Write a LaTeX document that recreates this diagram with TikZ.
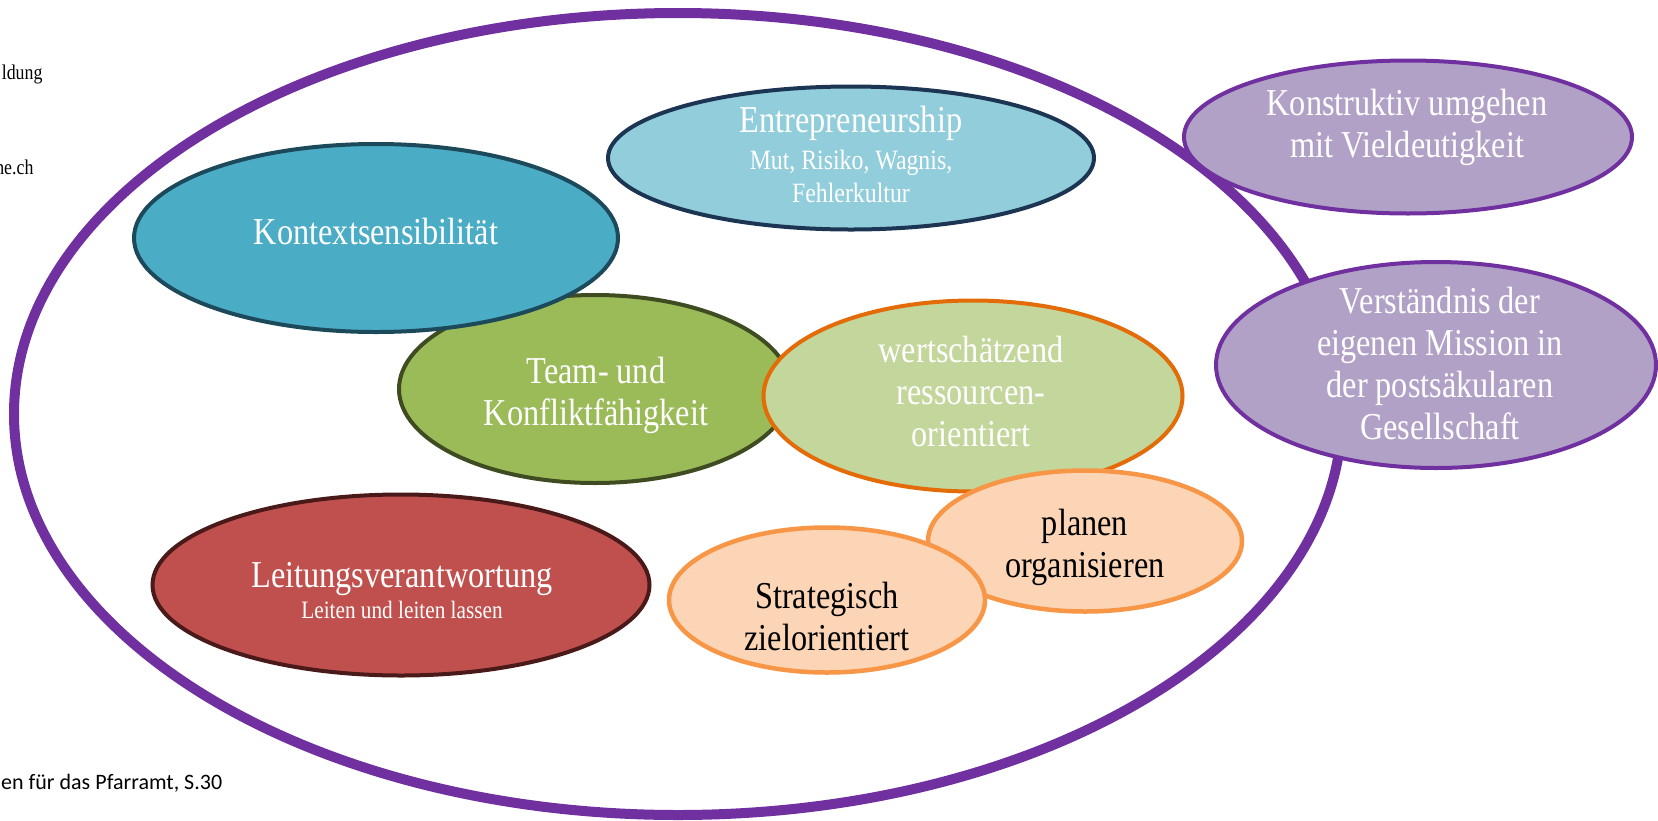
\documentclass[tikz,border=0pt]{standalone}
\usepackage{fontspec}
\newfontfamily\condfont{Liberation Serif}[FakeStretch=0.85]
\newfontfamily\notefont{Carlito}
\usetikzlibrary{shapes.geometric}
\definecolor{ringpurple}{HTML}{7030A0}
\definecolor{lilac}{HTML}{B2A1C7}
\definecolor{skyblue}{HTML}{92CDDC}
\definecolor{navyline}{HTML}{1C3553}
\definecolor{teal}{HTML}{4BACC6}
\definecolor{tealline}{HTML}{1D4A5B}
\definecolor{olive}{HTML}{9BBB59}
\definecolor{oliveline}{HTML}{3F4C21}
\definecolor{palegreen}{HTML}{C3D69B}
\definecolor{orangeline}{HTML}{E36C09}
\definecolor{peach}{HTML}{FBD5B5}
\definecolor{peachline}{HTML}{F79646}
\definecolor{brick}{HTML}{C0504D}
\definecolor{brickline}{HTML}{4A1A1A}
\tikzset{
  blob/.style={ellipse, draw, line width=4pt, inner sep=0pt},
  title/.style={font=\condfont\fontsize{38}{42}\selectfont, align=center, text=white},
  subtitle/.style={font=\condfont\fontsize{28}{33}\selectfont, align=center, text=white},
  smallsub/.style={font=\condfont\fontsize{25}{28}\selectfont, align=center, text=white},
  sidenote/.style={font=\condfont\fontsize{21}{24}\selectfont, anchor=east},
}
\begin{document}
\begin{tikzpicture}[x=1pt, y=-1pt]
\path[fill=white] (0,0) rectangle (1658,820);
\useasboundingbox (0,0) rectangle (1658,820);
% outer ring
\node[ellipse, draw=ringpurple, line width=10pt, inner sep=0pt, minimum width=1328pt, minimum height=802pt] (ring) at (678,414) {};
% ellipses outside the ring
\node[blob, draw=ringpurple, fill=lilac, minimum width=448pt, minimum height=153pt] (konstr) at (1408,137) {};
\node[blob, draw=ringpurple, fill=lilac, minimum width=440pt, minimum height=206pt] (verst) at (1436,365) {};
% ellipses inside the ring
\node[blob, draw=navyline, fill=skyblue, minimum width=486pt, minimum height=143pt] (entre) at (851,158) {};
\node[blob, draw=oliveline, fill=olive, minimum width=392pt, minimum height=188pt] (team) at (595,389) {};
\node[blob, draw=tealline, fill=teal, minimum width=484pt, minimum height=188pt] (kontext) at (376,238) {};
\node[blob, draw=orangeline, fill=palegreen, minimum width=419pt, minimum height=191pt] (wert) at (973,396) {};
\node[blob, draw=peachline, fill=peach, line width=4.5pt, minimum width=314pt, minimum height=141pt] (planen) at (1085,541) {};
\node[blob, draw=peachline, fill=peach, line width=4.5pt, minimum width=316pt, minimum height=145pt] (strat) at (827,600) {};
\node[blob, draw=brickline, fill=brick, minimum width=497pt, minimum height=181pt] (leit) at (401,585) {};
% texts
\node[title] (konstrT) at (1407,127) {Konstruktiv umgehen\\mit Vieldeutigkeit};
\node[title] (verstT) at (1440,363) {Verständnis der\\eigenen Mission in\\der postsäkularen\\Gesellschaft};
\node[title] (entreT) at (851,123) {Entrepreneurship};
\node[subtitle] (entreS) at (851,176) {Mut, Risiko, Wagnis,\\Fehlerkultur};
\node[title] (kontextT) at (376,231) {Kontextsensibilität};
\node[title] (teamT) at (596,395) {Team- und\\Konfliktfähigkeit};
\node[title] (wertT) at (971,391) {wertschätzend\\ressourcen-\\orientiert};
\node[title, text=black] (planenT) at (1085,547) {planen\\organisieren};
\node[title, text=black] (stratT) at (827,616) {Strategisch\\zielorientiert};
\node[title] (leitT) at (402,579) {Leitungsverantwortung};
\node[smallsub] (leitS) at (402,610) {Leiten und leiten lassen};
% cut-off notes at the page edge
\node[sidenote] (noteA) at (46,74) {ldung};
\node[sidenote] (noteB) at (37,167) {ne.ch};
\node[font=\notefont\fontsize{22}{26}\selectfont, anchor=west, inner sep=0pt] (source) at (1,783) {en für das Pfarramt, S.30};
\end{tikzpicture}
\end{document}
